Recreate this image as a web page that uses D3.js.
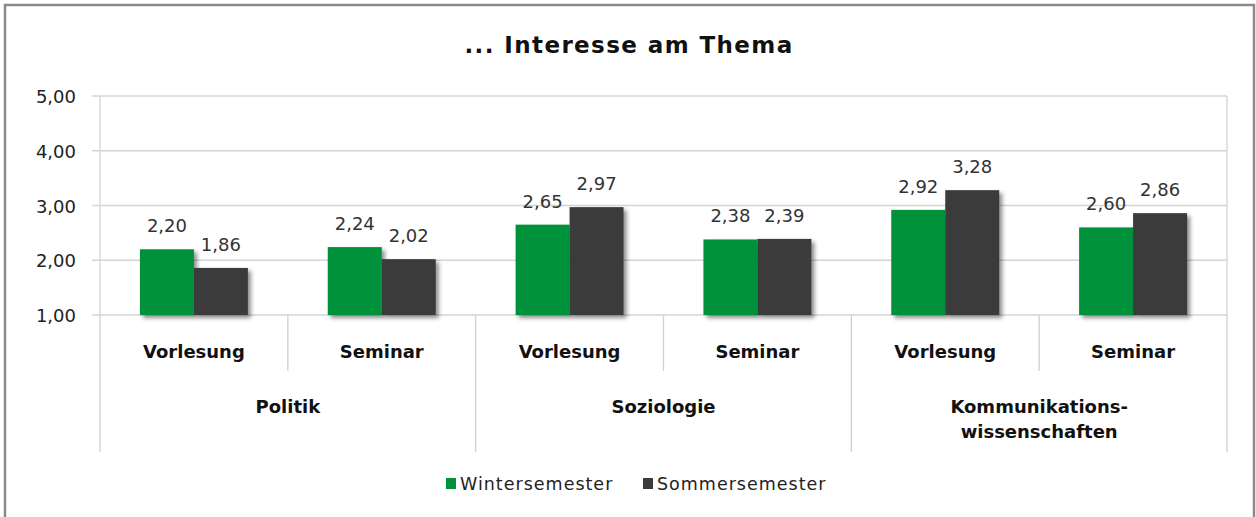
<!DOCTYPE html>
<html><head><meta charset="utf-8">
<script src="https://cdn.jsdelivr.net/npm/d3@7"></script>
<style>
html,body{margin:0;padding:0;background:#fff;}
svg{display:block;}
text{font-family:"DejaVu Sans",Lato,sans-serif;}
</style></head>
<body>
<svg id="c" width="1256" height="517"></svg>
<script>
const title = "... Interesse am Thema";
const groups = ["Politik", "Soziologie", "Kommunikations-\nwissenschaften"];
const subcategories = ["Vorlesung", "Seminar"];
const seriesNames = ["Wintersemester", "Sommersemester"];
const wintersemester = [2.20, 2.24, 2.65, 2.38, 2.92, 2.60];
const sommersemester = [1.86, 2.02, 2.97, 2.39, 3.28, 2.86];
const yTicks = [1, 2, 3, 4, 5];
const colors = ["#00913a", "#3b3b3b"];

(function(){
const svg = d3.select("#c");
const pL = 100, pR = 1227, pT = 96, pB = 315;

// outer frame
svg.append("rect").attr("x", 5).attr("y", 5).attr("width", 1249).attr("height", 530)
  .attr("fill", "none").attr("stroke", "#8a8a8a").attr("stroke-width", 2.5);

const defs = svg.append("defs");
const f = defs.append("filter").attr("id", "sh").attr("x", "-20%").attr("y", "-20%").attr("width", "150%").attr("height", "150%");
f.append("feDropShadow").attr("dx", 3).attr("dy", 3).attr("stdDeviation", 2.2)
  .attr("flood-color", "#000").attr("flood-opacity", 0.45);

svg.append("text").attr("x", 629).attr("y", 53).attr("text-anchor", "middle")
  .attr("font-size", 23).attr("font-weight", "bold").attr("letter-spacing", 1.4)
  .attr("fill", "#111").text(title);

const keys = [];
groups.forEach((g, gi) => subcategories.forEach((s, si) => keys.push(gi + "|" + si)));
const x0 = d3.scaleBand().domain(keys).range([pL, pR]).padding(0);
const x1 = d3.scaleBand().domain(seriesNames).range([0, x0.bandwidth()]).paddingInner(0).paddingOuter(0.74);
const y = d3.scaleLinear().domain([1, 5]).range([pB, pT]);

// gridlines
svg.append("g").selectAll("line").data(yTicks).join("line")
  .attr("x1", pL - 8).attr("x2", pR).attr("y1", d => y(d)).attr("y2", d => y(d))
  .attr("stroke", "#d4d4d4").attr("stroke-width", 1.3);
svg.append("line").attr("x1", pL).attr("x2", pL).attr("y1", pT).attr("y2", pB)
  .attr("stroke", "#d4d4d4").attr("stroke-width", 1.3);
svg.append("line").attr("x1", pR).attr("x2", pR).attr("y1", pT).attr("y2", pB)
  .attr("stroke", "#d4d4d4").attr("stroke-width", 1.3);

// y axis labels
svg.append("g").selectAll("text").data(yTicks).join("text")
  .attr("x", 76).attr("y", d => y(d) + 7).attr("text-anchor", "end")
  .attr("font-size", 18).attr("fill", "#222").text(d => d3.format(".2f")(d).replace(".", ","));

// bars
const data = keys.map((k, i) => ({k, vals: [wintersemester[i], sommersemester[i]]}));
const gBars = svg.append("g");
data.forEach(d => {
  const g = gBars.append("g").attr("transform", `translate(${x0(d.k)},0)`);
  g.selectAll("rect").data(d.vals).join("rect")
    .attr("x", (v, i) => x1(seriesNames[i])).attr("width", x1.bandwidth())
    .attr("y", v => y(v)).attr("height", v => y(1) - y(v))
    .attr("fill", (v, i) => colors[i]).attr("filter", "url(#sh)");
  g.selectAll("text").data(d.vals).join("text")
    .attr("x", (v, i) => x1(seriesNames[i]) + x1.bandwidth() / 2)
    .attr("y", v => y(v) - 17).attr("text-anchor", "middle")
    .attr("font-size", 18).attr("fill", "#333")
    .text(v => d3.format(".2f")(v).replace(".", ","));
});

// category axis lines
const sepStroke = "#d0d0d0";
keys.forEach((k, i) => {
  const xs = x0(k);
  const isGroup = i % subcategories.length === 0;
  svg.append("line").attr("x1", xs).attr("x2", xs).attr("y1", pB).attr("y2", isGroup ? 452 : 371)
    .attr("stroke", sepStroke).attr("stroke-width", 1.3);
});
svg.append("line").attr("x1", pR).attr("x2", pR).attr("y1", pB).attr("y2", 452)
  .attr("stroke", sepStroke).attr("stroke-width", 1.3);

// sub labels
svg.append("g").selectAll("text").data(keys).join("text")
  .attr("x", k => x0(k) + x0.bandwidth() / 2).attr("y", 358).attr("text-anchor", "middle")
  .attr("font-size", 18).attr("font-weight", "bold").attr("fill", "#111")
  .text(k => subcategories[+k.split("|")[1]]);

// group labels
groups.forEach((g, gi) => {
  const cx = x0(gi + "|0") + x0.bandwidth();
  const t = svg.append("text").attr("x", cx).attr("y", 413).attr("text-anchor", "middle")
    .attr("font-size", 18).attr("font-weight", "bold").attr("fill", "#111");
  g.split("\n").forEach((line, li) => {
    t.append("tspan").attr("x", cx).attr("dy", li === 0 ? 0 : 25).text(line);
  });
});

// legend
const legend = [{x: 446, name: seriesNames[0], c: colors[0]}, {x: 643, name: seriesNames[1], c: colors[1]}];
legend.forEach(l => {
  svg.append("rect").attr("x", l.x).attr("y", 478).attr("width", 10).attr("height", 11).attr("fill", l.c);
  svg.append("text").attr("x", l.x + 14).attr("y", 490).attr("font-size", 17.5).attr("letter-spacing", 1)
    .attr("fill", "#222").text(l.name);
});
})();
</script>
</body></html>
